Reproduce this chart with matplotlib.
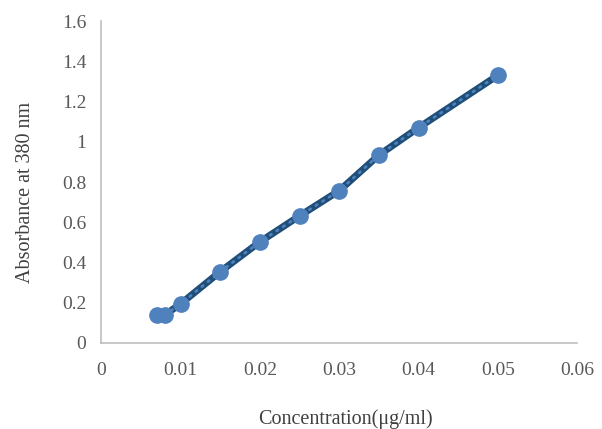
import matplotlib
matplotlib.use('Agg')
import matplotlib.pyplot as plt

# concentration (ug/ml) and absorbance
conc = [0.007, 0.008, 0.01, 0.015, 0.02, 0.025, 0.03, 0.035, 0.04, 0.05]
absorb = [0.137, 0.14, 0.195, 0.355, 0.503, 0.632, 0.757, 0.934, 1.07, 1.33]

x_ticks = [0, 0.01, 0.02, 0.03, 0.04, 0.05, 0.06]
x_labels = ['0', '0.01', '0.02', '0.03', '0.04', '0.05', '0.06']
y_ticks = [0, 0.2, 0.4, 0.6, 0.8, 1, 1.2, 1.4, 1.6]
y_labels = ['0', '0.2', '0.4', '0.6', '0.8', '1', '1.2', '1.4', '1.6']

plt.rcParams['font.family'] = ['Liberation Serif', 'DejaVu Serif']

fig = plt.figure(figsize=(6.02, 4.29), dpi=100)
ax = fig.add_axes([0.1686, 0.2005, 0.79, 0.7505])

# thick dark line with a lighter dotted line on top, then markers
ax.plot(conc, absorb, color='#1F4E79', linewidth=5, solid_capstyle='round', zorder=2)
ax.plot(conc, absorb, color='#4F81BD', linewidth=2, linestyle=(0, (0.6, 2.2)),
        dash_capstyle='round', zorder=3)
ax.plot(conc, absorb, linestyle='none', marker='o', markersize=11,
        color='#4F81BD', markeredgecolor='#4F81BD', zorder=4)

ax.set_xlim(0, 0.06)
ax.set_ylim(0, 1.6)
ax.set_xticks(x_ticks)
ax.set_xticklabels(x_labels)
ax.set_yticks(y_ticks)
ax.set_yticklabels(y_labels)
ax.tick_params(length=0, labelsize=14, labelcolor='#595959')
ax.tick_params(axis='x', pad=14)
ax.tick_params(axis='y', pad=11)

for side in ['top', 'right']:
    ax.spines[side].set_visible(False)
for side in ['left', 'bottom']:
    ax.spines[side].set_color('#BFBFBF')
    ax.spines[side].set_linewidth(1.2)

fig.text(0.574, 0.0235, 'Concentration(μg/ml)', ha='center', va='center',
         fontsize=14.5, color='#404040')
fig.text(0.043, 0.5524, 'Absorbance at 380 nm', ha='center', va='center',
         rotation=90, fontsize=14.5, color='#404040')

fig.savefig('out.png', dpi=100)
